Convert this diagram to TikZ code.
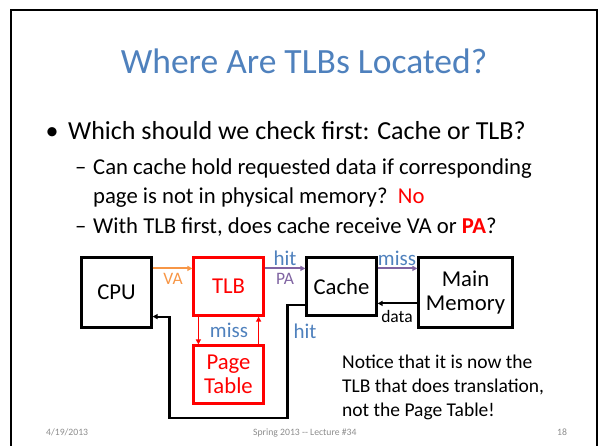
\documentclass[tikz,border=0pt]{standalone}
\usepackage{fontspec}
\setmainfont{Carlito}
\usetikzlibrary{arrows.meta, positioning, calc}
\definecolor{stitle}{HTML}{4F81BD}
\definecolor{sblue}{HTML}{4F81BD}
\definecolor{sred}{HTML}{FF0000}
\definecolor{cva}{HTML}{F79646}
\definecolor{cpa}{HTML}{8064A2}
\definecolor{sgray}{HTML}{8C8C8C}
\newcommand{\subsize}{\fontsize{22.7}{28}\selectfont}
\tikzset{
  blk/.style={draw=black, line width=2.2pt, inner sep=0pt, align=center,
              font=\fontsize{22.7}{24}\selectfont},
  redblk/.style={blk, draw=sred, text=sred},
  lbl/.style={inner sep=0pt, text=sblue, font=\fontsize{21}{24}\selectfont},
  smlbl/.style={inner sep=0pt, font=\fontsize{17.5}{20}\selectfont},
  txt/.style={anchor=base west, inner sep=0pt},
  foot/.style={anchor=base west, inner sep=0pt, text=sgray, font=\fontsize{9.7}{11}\selectfont},
  arr/.style={-{Triangle[length=5pt,width=5pt]}, line width=2pt},
}
\begin{document}
\begin{tikzpicture}[x=1pt, y=-1pt]
  \useasboundingbox (0,0) rectangle (602,446);
  \draw[line width=2.4pt] (11,446) -- (11,10) -- (597,10) -- (597,446);

  % title and text
  \node[anchor=base, inner sep=0pt, text=stitle, font=\fontsize{35.5}{40}\selectfont]
    (title) at (304,74) {Where Are TLBs Located?};
  \node[anchor=base, inner sep=0pt, font=\fontsize{26}{30}\selectfont] (dot) at (52,140) {\textbullet};
  \node[txt, font=\fontsize{26}{30}\selectfont] (q1) at (68,140) {Which should we check first: Cache or TLB?};
  \node[txt, font=\subsize] (dash1) at (75,175) {–};
  \node[txt, font=\subsize] (q2a) at (93,175) {Can cache hold requested data if corresponding};
  \node[txt, font=\subsize] (q2b) at (93,204) {page is not in physical memory?\ \ {\color{sred}No}};
  \node[txt, font=\subsize] (dash2) at (75,234) {–};
  \node[txt, font=\subsize] (q3) at (93,234) {With TLB first, does cache receive VA or {\color{sred}\textbf{PA}}?};

  % boxes
  \node[blk, minimum width=70pt, minimum height=70pt] (cpu) at (116.5,292.5) {CPU};
  \node[redblk, minimum width=70pt, minimum height=58pt] (tlb) at (228.5,286.5) {TLB};
  \node[redblk, minimum width=70pt, minimum height=58pt] (pt) at (228.5,374.5) {Page\\Table};
  \node[blk, minimum width=70pt, minimum height=58pt] (cache) at (341.5,286.5) {Cache};
  \node[blk, minimum width=94pt, minimum height=70pt] (mem) at (465.5,292.5) {Main\\Memory};

  % connectors
  \draw[arr, cva] ([yshift=-12pt]cpu.north east) -- ([yshift=-12pt]tlb.north west);
  \draw[arr, cpa] ([yshift=-12pt]tlb.north east) -- ([yshift=-12pt]cache.north west);
  \draw[arr, cpa] ([yshift=-12pt]cache.north east) -- ([yshift=-12pt]mem.north west);
  \draw[arr] ([yshift=-47pt]mem.north west) -- ([yshift=-47pt]cache.north east);
  \draw[arr, sred, line width=1.6pt] ([xshift=6pt]tlb.south west) -- ([xshift=6pt]pt.north west);
  \draw[arr, sred, line width=1.6pt] ([xshift=-6pt]pt.north east) -- ([xshift=-6pt]tlb.south east);
  \draw[arr, line width=2.2pt] ([yshift=12pt]cache.south west) -- ++(-18,0) -- ++(0,113)
    -- ++(-118,0) |- (cpu.east |- tlb.south);

  % labels
  \node[smlbl, text=cva] (va) at (173,279) {VA};
  \node[lbl] (hitpa) at (285,258) {hit};
  \node[smlbl, text=cpa] (pa) at (285,279) {PA};
  \node[lbl] (misspt) at (229,330) {miss};
  \node[lbl] (hitcpu) at (305,331) {hit};
  \node[lbl] (missmem) at (397,258) {miss};
  \node[smlbl] (data) at (397,316) {data};

  \node[txt, align=left, font=\fontsize{19.5}{24}\selectfont] (note) at (342,416)
    {Notice that it is now the\\TLB that does translation,\\not the Page Table!};

  % footer
  \node[foot] (date) at (46,435) {4/19/2013};
  \node[foot] (course) at (253,435) {Spring 2013 {-}{-} Lecture \#34};
  \node[foot] (page) at (557,435) {18};
\end{tikzpicture}
\end{document}
